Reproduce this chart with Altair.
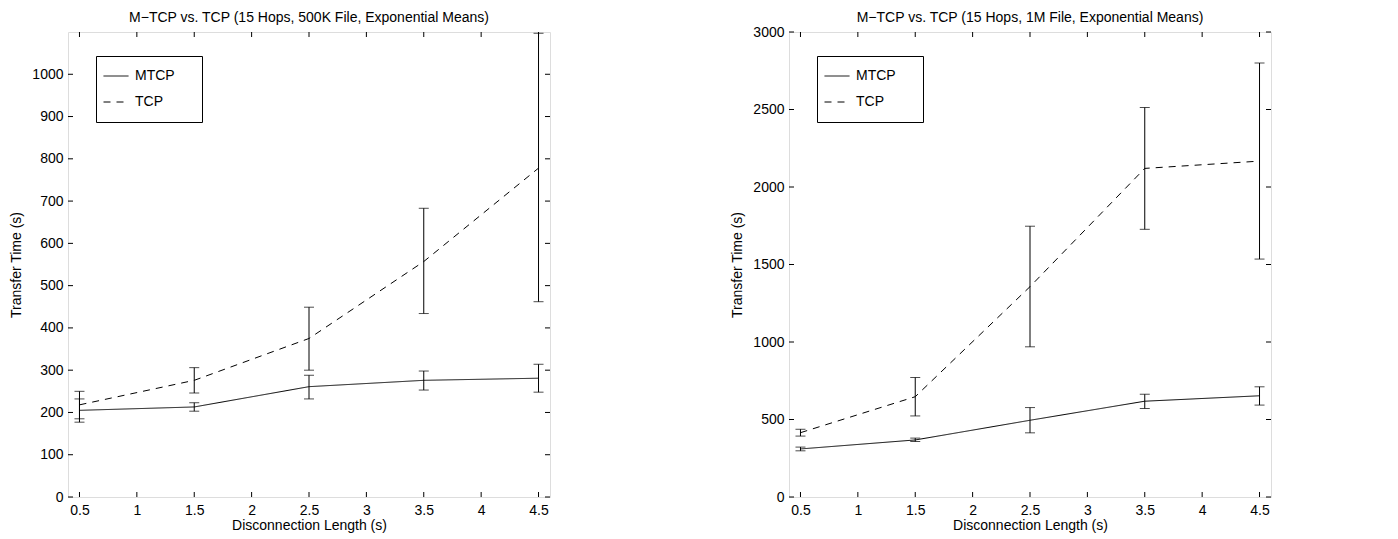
import altair as alt
import pandas as pd

FONT = "Liberation Sans"
FS = 14

x_vals = [0.5, 1.5, 2.5, 3.5, 4.5]
x_ticks = [0.5, 1, 1.5, 2, 2.5, 3, 3.5, 4, 4.5]

# Left panel: 500K file
mtcp_500k_mean = [205, 213, 261, 276, 281]
mtcp_500k_lo = [177, 203, 232, 253, 248]
mtcp_500k_hi = [232, 223, 288, 298, 314]
tcp_500k_mean = [218, 276, 375, 557, 778]
tcp_500k_lo = [185, 246, 300, 434, 462]
tcp_500k_hi = [250, 306, 449, 683, 1097]
y_ticks_500k = [0, 100, 200, 300, 400, 500, 600, 700, 800, 900, 1000]

# Right panel: 1M file
mtcp_1m_mean = [310, 368, 495, 618, 653]
mtcp_1m_lo = [298, 358, 414, 571, 593]
mtcp_1m_hi = [322, 380, 577, 663, 711]
tcp_1m_mean = [415, 647, 1357, 2120, 2167]
tcp_1m_lo = [393, 523, 969, 1727, 1535]
tcp_1m_hi = [437, 771, 1747, 2513, 2800]
y_ticks_1m = [0, 500, 1000, 1500, 2000, 2500, 3000]

series_names = ["MTCP", "TCP"]

W = 482
H = 465

PAD_CHAR = "\u2800"


def panel(title, title_offset, m_mean, m_lo, m_hi, t_mean, t_lo, t_hi, ymax, yticks):
    rows = []
    for name, mean, lo, hi in [("MTCP", m_mean, m_lo, m_hi), ("TCP", t_mean, t_lo, t_hi)]:
        for xv, mv, lv, hv in zip(x_vals, mean, lo, hi):
            rows.append({"x": xv, "y": mv, "lo": lv, "hi": hv, "series": name})
    df = pd.DataFrame(rows)

    xscale = alt.Scale(domain=[0.4, 4.6], nice=False, zero=False)
    yscale = alt.Scale(domain=[0, ymax], nice=False, zero=True)
    xaxis = alt.Axis(values=x_ticks, format="~g", title="Disconnection Length (s)", ticks=False,
                     domain=False, grid=False, labelPadding=6, titlePadding=1,
                     labelFontSize=FS, titleFontSize=FS, labelFont=FONT, titleFont=FONT,
                     titleFontWeight="normal", labelColor="black", titleColor="black",
                     labelFlush=False)
    yaxis = alt.Axis(values=yticks, format="d", title="Transfer Time (s)", ticks=False,
                     domain=False, grid=False, labelPadding=5, titlePadding=8,
                     labelFontSize=FS, titleFontSize=FS, labelFont=FONT, titleFont=FONT,
                     titleFontWeight="normal", labelColor="black", titleColor="black",
                     labelFlush=False)

    def X(field):
        return alt.X(field, type="quantitative", scale=xscale, axis=xaxis)

    def Y(field):
        return alt.Y(field, type="quantitative", scale=yscale, axis=yaxis)

    base = alt.Chart(df)
    line = base.mark_line(color="black", strokeWidth=1).encode(
        x=X("x"), y=Y("y"),
        strokeDash=alt.StrokeDash(
            "series:N",
            scale=alt.Scale(domain=series_names, range=[[1, 0], [7, 6]]),
            legend=alt.Legend(
                title=None, orient="none", legendX=28, legendY=24,
                fillColor="white", strokeColor="black", padding=7,
                symbolType="stroke", symbolSize=625, symbolStrokeWidth=1,
                symbolStrokeColor="black", symbolOffset=0, labelOffset=6,
                clipHeight=26, rowPadding=0, labelFontSize=FS, labelFont=FONT,
                labelColor="black",
                labelExpr="datum.label + '" + PAD_CHAR * 2 + "'",
            ),
        ),
        detail="series:N",
    )
    err = base.mark_rule(color="black", strokeWidth=1).encode(
        x=X("x"), y=Y("lo"), y2="hi")
    cap_lo = base.mark_tick(orient="horizontal", size=10, thickness=1, color="black").encode(
        x=X("x"), y=Y("lo"))
    cap_hi = base.mark_tick(orient="horizontal", size=10, thickness=1, color="black").encode(
        x=X("x"), y=Y("hi"))

    xt = pd.DataFrame({"x": x_ticks})
    yt = pd.DataFrame({"y": yticks})
    tb = alt.Chart(xt).mark_rule(color="black", strokeWidth=1).encode(
        x=X("x"), y=alt.value(H), y2=alt.value(H - 5))
    tt = alt.Chart(xt).mark_rule(color="black", strokeWidth=1).encode(
        x=X("x"), y=alt.value(0), y2=alt.value(5))
    tl = alt.Chart(yt).mark_rule(color="black", strokeWidth=1).encode(
        y=Y("y"), x=alt.value(0), x2=alt.value(5))
    tr = alt.Chart(yt).mark_rule(color="black", strokeWidth=1).encode(
        y=Y("y"), x=alt.value(W - 5), x2=alt.value(W))

    return alt.layer(err, cap_lo, cap_hi, line, tb, tt, tl, tr).properties(
        width=W, height=H,
        title=alt.TitleParams(title, fontSize=FS, font=FONT, fontWeight="normal",
                              anchor="middle", offset=title_offset, color="black"),
    )


left = panel("M\u2212TCP vs. TCP (15 Hops, 500K File, Exponential Means)", 7,
             mtcp_500k_mean, mtcp_500k_lo, mtcp_500k_hi,
             tcp_500k_mean, tcp_500k_lo, tcp_500k_hi, 1100, y_ticks_500k)
right = panel("M\u2212TCP vs. TCP (15 Hops, 1M File, Exponential Means)", 0,
              mtcp_1m_mean, mtcp_1m_lo, mtcp_1m_hi,
              tcp_1m_mean, tcp_1m_lo, tcp_1m_hi, 3000, y_ticks_1m)

chart = alt.hconcat(left, right, spacing=179).resolve_scale(
    strokeDash="independent", x="independent", y="independent"
).resolve_legend(strokeDash="independent").properties(
    padding={"left": 1, "top": 2, "right": 0, "bottom": 0}
).configure_view(stroke="black", strokeWidth=1).configure(background="white")

chart.save("out.html", embed_options={"renderer": "svg", "actions": False})
